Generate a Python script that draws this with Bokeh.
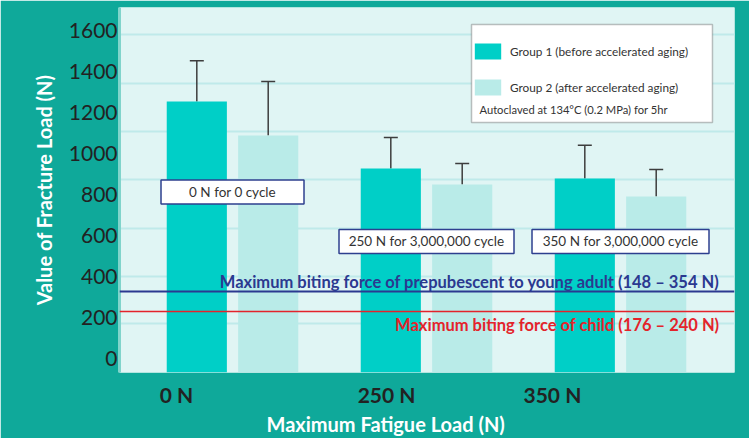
from bokeh.plotting import figure
from bokeh.models import (Range1d, FixedTicker, Whisker, Span, Label, Legend,
                          LegendItem, BoxAnnotation, ColumnDataSource, TeeHead, Title)
from bokeh.embed import file_html
from bokeh.resources import INLINE
from bokeh.core.properties import value

# ---------------- data ----------------
categories = ["0 N", "250 N", "350 N"]
group1_mean = [1254, 927, 878]
group1_sd = [198, 151, 162]
group2_mean = [1088, 849, 790]
group2_sd = [263, 102, 132]
legend_labels = ["Group 1 (before accelerated aging)", "Group 2 (after accelerated aging)"]
legend_note = "Autoclaved at 134\u00b0C (0.2 MPa) for 5hr"
condition_labels = ["0 N for 0 cycle", "250 N for 3,000,000 cycle", "350 N for 3,000,000 cycle"]
condition_label_y = [812, 571, 571]
y_ticks = [0, 200, 400, 600, 800, 1000, 1200, 1400, 1600]
adult_force = 327
child_force = 229
adult_text = "Maximum biting force of prepubescent to young adult (148 \u2013 354 N)"
child_text = "Maximum biting force of child (176 \u2013 240 N)"
x_title = "Maximum Fatigue Load (N)"
y_title = "Value of Fracture Load (N)"

# ---------------- style ----------------
FONT = "Lato"
BG = "#0fa99a"
PLOT_BG = "#e0f5f4"
C1 = "#00cfc7"
C2 = "#b9ebe8"
BLUE = "#2b3990"
RED = "#e4232b"
Y_MIN, Y_MAX = -68, 1712
X_MIN, X_MAX = -0.5825, 2.5876
BAR_W = 0.31
OFFSET = 0.184
grid_levels = [171, 400, 634, 873, 1107, 1341, 1580]
tick_shift = [-0.289, -0.206, -0.351]
box_widths = [143, 175, 177]

idx = list(range(len(categories)))
x1 = [i - OFFSET for i in idx]
x2 = [i + OFFSET for i in idx]

src1 = ColumnDataSource(dict(x=x1, top=group1_mean,
                             upper=[m + s for m, s in zip(group1_mean, group1_sd)]))
src2 = ColumnDataSource(dict(x=x2, top=group2_mean,
                             upper=[m + s for m, s in zip(group2_mean, group2_sd)]))

p = figure(frame_width=615, frame_height=365,
           x_range=Range1d(X_MIN, X_MAX), y_range=Range1d(Y_MIN, Y_MAX),
           output_backend="svg", toolbar_location=None,
           min_border_left=119, min_border_right=15, min_border_top=7, min_border_bottom=66,
           background_fill_color=PLOT_BG, border_fill_color=BG, outline_line_color=None)

r1 = p.vbar(x="x", top="top", bottom=Y_MIN, width=BAR_W, source=src1,
            fill_color=C1, line_color=None)
r2 = p.vbar(x="x", top="top", bottom=Y_MIN, width=BAR_W, source=src2,
            fill_color=C2, line_color=None)

for src in (src1, src2):
    w = Whisker(source=src, base="x", lower="top", upper="upper",
                lower_head=None,
                upper_head=TeeHead(size=14, line_color="#3d3d3d", line_width=1.5),
                line_color="#3d3d3d", line_width=1.5)
    p.add_layout(w)

# reference lines
p.add_layout(Span(location=adult_force, dimension="width", line_color=BLUE, line_width=2))
p.add_layout(Span(location=child_force, dimension="width", line_color=RED, line_width=1.5))
p.add_layout(Label(x=2.51, y=adult_force, text=adult_text, text_align="right",
                   text_baseline="bottom", text_font=FONT, text_font_style="bold",
                   text_font_size="16.5px", text_color=BLUE))
p.add_layout(Label(x=2.51, y=child_force, text=child_text, text_align="right",
                   text_baseline="top", text_font=FONT, text_font_style="bold",
                   text_font_size="16.5px", text_color=RED, y_offset=-3))

# condition boxes
p.rect(x=idx, y=condition_label_y, width=box_widths, width_units="screen",
       height=24, height_units="screen", fill_color="white",
       line_color="#2e3f8f", line_width=1.5)
p.text(x=idx, y=condition_label_y, text=condition_labels, text_align="center",
       text_baseline="middle", text_font=value(FONT), text_font_size="13.5px",
       text_color="#333333")

# legend box
p.add_layout(BoxAnnotation(left=1.232, right=2.474, top=1629, bottom=1151,
                           fill_color="white", fill_alpha=1.0,
                           line_color="#333333", line_width=1.5))
legend = Legend(items=[LegendItem(label=legend_labels[0], renderers=[r1]),
                       LegendItem(label=legend_labels[1], renderers=[r2])],
                location=(352, 275), border_line_color=None, background_fill_alpha=0,
                padding=8, spacing=16, glyph_width=33, glyph_height=20,
                label_standoff=6, label_height=20, margin=0,
                label_text_font=FONT, label_text_font_size="11.8px",
                label_text_color="#333333")
p.add_layout(legend)
p.add_layout(Label(x=1.273, y=1215, text=legend_note, text_baseline="middle",
                   text_font=FONT, text_font_size="11.2px", text_color="#333333"))

# axes
p.yaxis.ticker = FixedTicker(ticks=y_ticks)
p.yaxis.axis_label = y_title
p.yaxis.axis_label_text_font = FONT
p.yaxis.axis_label_text_font_style = "bold"
p.yaxis.axis_label_text_font_size = "20px"
p.yaxis.axis_label_text_color = "white"
p.yaxis.axis_label_standoff = 10
p.yaxis.major_label_text_font = FONT
p.yaxis.major_label_text_font_size = "21px"
p.yaxis.major_label_text_color = "#222222"
p.yaxis.major_label_standoff = -4
p.yaxis.major_tick_line_color = None
p.yaxis.minor_tick_line_color = None
p.yaxis.axis_line_color = "#80d4cb"
p.yaxis.axis_line_width = 3

x_ticks = [i + s for i, s in zip(idx, tick_shift)]
p.xaxis.ticker = FixedTicker(ticks=x_ticks)
p.xaxis.major_label_overrides = {t: c for t, c in zip(x_ticks, categories)}
p.xaxis.major_label_text_font = FONT
p.xaxis.major_label_text_font_style = "bold"
p.xaxis.major_label_text_font_size = "21px"
p.xaxis.major_label_text_color = "#222222"
p.xaxis.major_label_standoff = 3
p.xaxis.major_tick_line_color = None
p.xaxis.minor_tick_line_color = None
p.xaxis.axis_line_color = None

# x-axis title (placed off-centre, as in the reference)
p.add_layout(Title(text=x_title, align="left", offset=147, standoff=0,
                   text_font=FONT, text_font_style="bold", text_font_size="20px",
                   text_color="white"), "below")

p.xgrid.visible = False
p.ygrid.ticker = FixedTicker(ticks=grid_levels)
p.ygrid.grid_line_color = "#bfeaea"
p.ygrid.grid_line_width = 2

html = file_html(p, INLINE, title="Fracture load")
html = html.replace("<body>", '<body style="background-color:%s;">' % BG, 1)
open("out.html", "w").write(html)
